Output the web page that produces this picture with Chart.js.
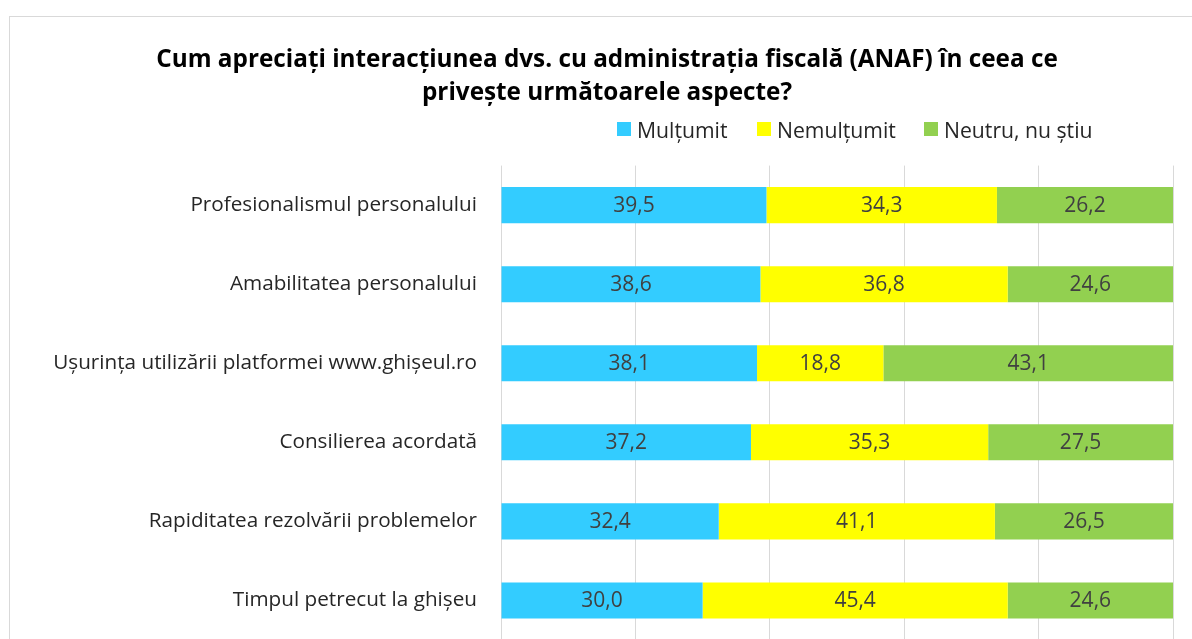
<!DOCTYPE html>
<html lang="ro">
<head>
<meta charset="utf-8">
<title>Interacțiunea cu ANAF</title>
<script src="https://cdn.jsdelivr.net/npm/chart.js@4.4.1/dist/chart.umd.min.js"></script>
<style>
  html, body { margin: 0; padding: 0; background: #fff; overflow: hidden; width: 1192px; height: 639px; }
  #frame { position: absolute; left: 9px; top: 16px; width: 1195px; height: 680px; border: 1px solid #d9d9d9; }
  #frame canvas { display: block; }
  .legend-item { position: absolute; top: 118px; height: 22px; display: flex; align-items: center;
    font-family: "Open Sans", sans-serif; font-size: 21.2px; color: #262626; white-space: nowrap; }
  .legend-item span.box { display: inline-block; width: 14px; height: 14px; margin-right: 6px; }
</style>
</head>
<body>
<div id="frame"><canvas id="chart" width="1195" height="680"></canvas></div>
<div id="legend"></div>
<script>
// values (percent)
const categories = [
  "Profesionalismul personalului",
  "Amabilitatea personalului",
  "Ușurința utilizării platformei www.ghișeul.ro",
  "Consilierea acordată",
  "Rapiditatea rezolvării problemelor",
  "Timpul petrecut la ghișeu",
];
const multumit = [39.5, 38.6, 38.1, 37.2, 32.4, 30.0];
const nemultumit = [34.3, 36.8, 18.8, 35.3, 41.1, 45.4];
const neutru = [26.2, 24.6, 43.1, 27.5, 26.5, 24.6];
const seriesNames = ["Mulțumit", "Nemulțumit", "Neutru, nu știu"];
const seriesColors = ["#33CCFF", "#FFFF00", "#92D050"];
const titleLines = [
  "Cum apreciați interacțiunea dvs. cu administrația fiscală (ANAF) în ceea ce",
  "privește următoarele aspecte?",
];

const FONT = '"Open Sans", sans-serif';

// legend drawn as html so it can sit at the right like in the original
const legendLeft = [617, 757, 924];
const legendEl = document.getElementById("legend");
seriesNames.forEach((name, i) => {
  const item = document.createElement("div");
  item.className = "legend-item";
  item.style.left = legendLeft[i] + "px";
  const box = document.createElement("span");
  box.className = "box";
  box.style.background = seriesColors[i];
  item.append(box, document.createTextNode(name));
  legendEl.append(item);
});

const barLabels = {
  id: "barLabels",
  afterDatasetsDraw(chart) {
    const ctx = chart.ctx;
    ctx.save();
    ctx.font = "21px " + FONT;
    ctx.fillStyle = "#404040";
    ctx.textAlign = "center";
    ctx.textBaseline = "middle";
    chart.data.datasets.forEach((ds, i) => {
      chart.getDatasetMeta(i).data.forEach((bar, j) => {
        const { x, y, base } = bar.getProps(["x", "y", "base"], true);
        ctx.fillText(ds.data[j].toFixed(1).replace(".", ","), (x + base) / 2, y + 1);
      });
    });
    ctx.restore();
  },
};

const values = [multumit, nemultumit, neutru];

new Chart(document.getElementById("chart"), {
  type: "bar",
  data: {
    labels: categories,
    datasets: seriesNames.map((name, i) => ({
      label: name,
      data: values[i],
      backgroundColor: seriesColors[i],
      borderWidth: 0,
      categoryPercentage: 1,
      barPercentage: 0.456,
    })),
  },
  options: {
    indexAxis: "y",
    responsive: false,
    animation: false,
    layout: { padding: { left: 31, right: 32, top: 0, bottom: 0 } },
    plugins: {
      legend: { display: false },
      tooltip: { enabled: false },
      title: {
        display: true,
        text: titleLines,
        color: "#000",
        font: { family: FONT, size: 24.3, weight: "bold", lineHeight: 1.37 },
        padding: { top: 26, bottom: 56 },
      },
    },
    scales: {
      x: {
        stacked: true,
        min: 0,
        max: 100,
        ticks: { stepSize: 20, callback: (v) => v + "%", color: "#595959", font: { family: FONT, size: 18 } },
        grid: { color: "#d9d9d9", drawTicks: false },
        border: { display: false },
        afterFit: (scale) => { scale.height = 57; },
      },
      y: {
        stacked: true,
        grid: { display: false, drawTicks: false },
        border: { display: false },
        ticks: { padding: 24, color: "#262626", font: { family: FONT, size: 20.7 } },
        afterFit: (scale) => { scale.width = 460; },
      },
    },
  },
  plugins: [barLabels],
});
</script>
</body>
</html>
